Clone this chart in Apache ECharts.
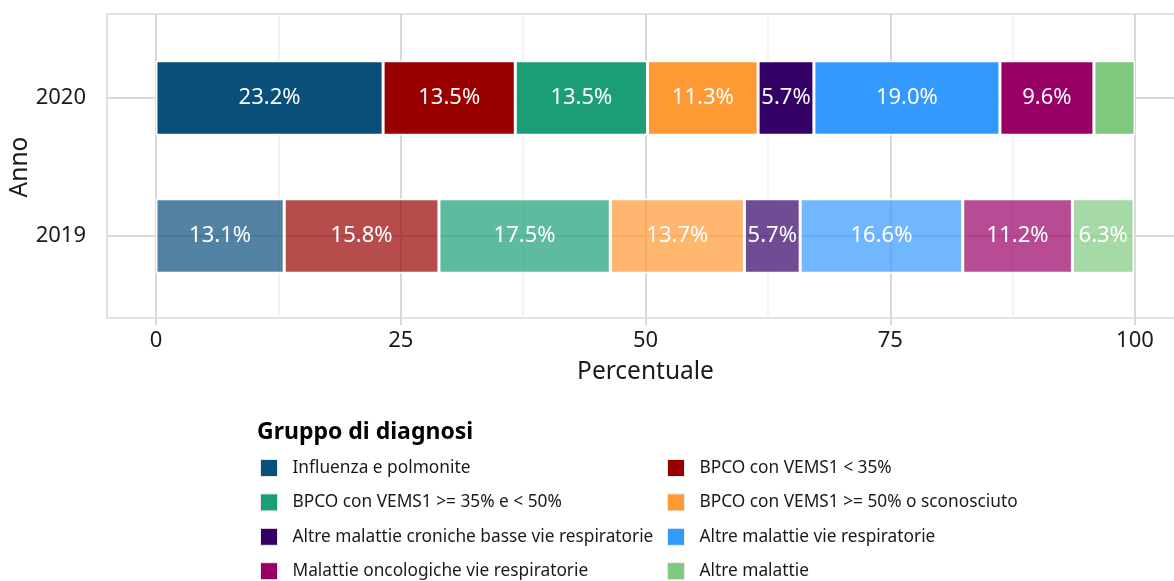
<!DOCTYPE html>
<html>
<head>
<meta charset="utf-8">
<script src="https://cdn.jsdelivr.net/npm/echarts@6/dist/echarts.min.js"></script>
<style>
  html, body { margin: 0; padding: 0; background: #fff; }
  #chart { width: 1174px; height: 581px; }
</style>
</head>
<body>
<div id="chart"></div>
<script>
// dati
const years = ['2019', '2020'];
const groups = [
  'Influenza e polmonite',
  'BPCO con VEMS1 < 35%',
  'BPCO con VEMS1 >= 35% e < 50%',
  'BPCO con VEMS1 >= 50% o sconosciuto',
  'Altre malattie croniche basse vie respiratorie',
  'Altre malattie vie respiratorie',
  'Malattie oncologiche vie respiratorie',
  'Altre malattie'
];
const values2019 = [13.1, 15.8, 17.5, 13.7, 5.7, 16.6, 11.2, 6.3];
const values2020 = [23.2, 13.5, 13.5, 11.3, 5.7, 19.0, 9.6, 4.2];
const xTicks = [0, 25, 50, 75, 100];
const colors = ['#084f7a', '#990000', '#1b9e77', '#ff9933', '#330066', '#3399ff', '#990066', '#7fc97f'];

const FONT = 'Noto Sans';
const GRID_COLOR = '#d9d9d9';

// colore con trasparenza per il 2019
function fade(hex, a) {
  const n = parseInt(hex.slice(1), 16);
  return 'rgba(' + (n >> 16) + ',' + ((n >> 8) & 255) + ',' + (n & 255) + ',' + a + ')';
}

const chart = echarts.init(document.getElementById('chart'));

const series = groups.map((name, i) => ({
  name: name,
  type: 'bar',
  stack: 'tot',
  xAxisIndex: 0,
  yAxisIndex: 0,
  barWidth: '54%',
  itemStyle: { color: colors[i], borderColor: '#fff', borderWidth: 1.5 },
  label: {
    show: true,
    position: 'inside',
    color: '#fff',
    fontFamily: FONT,
    fontSize: 22,
    formatter: p => (p.value >= 5 ? p.value.toFixed(1) + '%' : '')
  },
  data: [
    { value: values2019[i], itemStyle: { color: fade(colors[i], 0.7) } },
    { value: values2020[i] }
  ]
}));

const legendBase = {
  orient: 'vertical',
  top: 459,
  height: 200,
  padding: 0,
  itemWidth: 17,
  itemHeight: 17,
  itemGap: 16.4,
  icon: 'rect',
  selectedMode: false,
  itemStyle: { borderColor: '#ebebeb', borderWidth: 1 },
  textStyle: { fontFamily: FONT, fontSize: 17.3, color: '#1a1a1a', padding: [0, 0, 0, 10] }
};

const option = {
  animation: false,
  textStyle: { fontFamily: FONT },
  title: {
    text: 'Gruppo di diagnosi',
    left: 257,
    top: 421,
    padding: 0,
    textStyle: { fontFamily: FONT, fontSize: 23, fontWeight: 'bold', color: '#000' }
  },
  legend: [
    Object.assign({}, legendBase, { left: 260, data: [groups[0], groups[2], groups[4], groups[6]] }),
    Object.assign({}, legendBase, { left: 667, data: [groups[1], groups[3], groups[5], groups[7]] })
  ],
  grid: [
    // griglia delle barre
    { left: 107, right: -10, top: 29, height: 276, outerBoundsMode: 'none' },
    // linee verticali e asse x
    { left: 156, right: 39, top: 14, height: 304, outerBoundsMode: 'none' },
    // bordo del pannello
    { left: 107, right: -10, top: 14, height: 304, outerBoundsMode: 'none', show: true, borderColor: GRID_COLOR, borderWidth: 1.5, backgroundColor: 'transparent' }
  ],
  xAxis: [
    { gridIndex: 0, type: 'value', min: -5, max: 105, show: false },
    {
      gridIndex: 1,
      type: 'value',
      min: xTicks[0],
      max: xTicks[xTicks.length - 1],
      interval: 25,
      name: 'Percentuale',
      nameLocation: 'middle',
      nameGap: 42,
      nameMoveOverlap: false,
      nameTextStyle: { fontFamily: FONT, fontSize: 24.5, color: '#1a1a1a' },
      axisLine: { show: false },
      axisTick: { show: true, length: 7, lineStyle: { color: GRID_COLOR, width: 2 } },
      axisLabel: { margin: 12, fontFamily: FONT, fontSize: 22, color: '#1a1a1a' },
      splitLine: { show: true, lineStyle: { color: GRID_COLOR, width: 2 } },
      minorTick: { show: false, splitNumber: 2 },
      minorSplitLine: { show: true, lineStyle: { color: '#f0f0f0', width: 1.5 } }
    },
    { gridIndex: 2, type: 'value', show: false }
  ],
  yAxis: [
    {
      gridIndex: 0,
      type: 'category',
      data: years,
      name: 'Anno',
      nameLocation: 'middle',
      nameGap: 74,
      nameMoveOverlap: false,
      nameTextStyle: { fontFamily: FONT, fontSize: 24.5, color: '#1a1a1a' },
      axisLine: { show: false },
      axisTick: { show: true, length: 7, alignWithLabel: true, lineStyle: { color: GRID_COLOR, width: 2 } },
      axisLabel: { margin: 21, fontFamily: FONT, fontSize: 22, color: '#1a1a1a' },
      splitLine: { show: true, alignWithLabel: true, lineStyle: { color: GRID_COLOR, width: 2 } }
    },
    { gridIndex: 1, type: 'value', show: false },
    { gridIndex: 2, type: 'value', show: false }
  ],
  series: series
};

chart.setOption(option);

window.addEventListener('resize', () => {
  chart.resize();
});
</script>
</body>
</html>
